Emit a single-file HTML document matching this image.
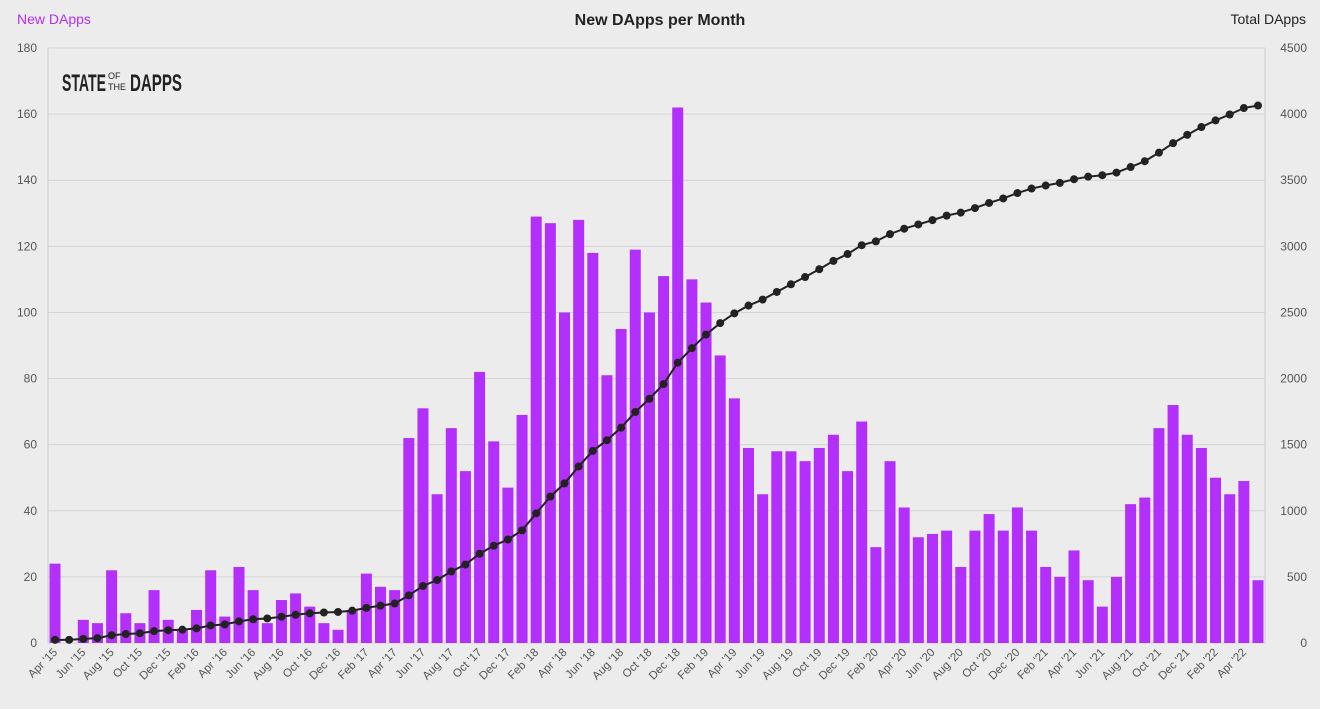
<!DOCTYPE html>
<html><head><meta charset="utf-8"><style>
body{margin:0;background:#ececec;font-family:"Liberation Sans",sans-serif;}
svg text{font-family:"Liberation Sans",sans-serif;}
</style></head><body>
<svg id="c" width="1320" height="704" xmlns="http://www.w3.org/2000/svg"></svg>
<script>
const v=[24,0,7,6,22,9,6,16,7,4,10,22,8,23,16,6,13,15,11,6,4,10,21,17,16,62,71,45,65,52,82,61,47,69,129,127,100,128,118,81,95,119,100,111,162,110,103,87,74,59,45,58,58,55,59,63,52,67,29,55,41,32,33,34,23,34,39,34,41,34,23,20,28,19,11,20,42,44,65,72,63,59,50,45,49,19];
const mn=["Jan","Feb","Mar","Apr","May","Jun","Jul","Aug","Sep","Oct","Nov","Dec"];
const X0=48,X1=1265,Y0=643,Y1=48;
const n=v.length, step=(1258-55)/(n-1);
let s='<rect width="1320" height="704" fill="#ececec"/>';
for(let i=0;i<=9;i++){const y=Y0-(Y0-Y1)*i/9;
 s+=`<line x1="${X0}" x2="${X1}" y1="${y}" y2="${y}" stroke="#d4d4d4"/>`;
 s+=`<text x="37" y="${y+4}" font-size="12" fill="#555" text-anchor="end">${i*20}</text>`;
 s+=`<text x="1307" y="${y+4}" font-size="12" fill="#555" text-anchor="end">${i*500}</text>`;}
s+=`<line x1="${X0}" x2="${X0}" y1="${Y1}" y2="${Y0}" stroke="#ccc"/><line x1="${X1}" x2="${X1}" y1="${Y1}" y2="${Y0}" stroke="#ccc"/>`;
let cum=0,pts=[];const k=(Y0-Y1)/180,kr=(Y0-Y1)/4500;
let tot=v.reduce((a,b)=>a+b,0),scale=4065/tot;
v.forEach((d,i)=>{const x=55+i*step;
 s+=`<rect x="${x-5.5}" y="${Y0-d*k}" width="11" height="${d*k}" fill="#b32ffb"/>`;
 cum+=d;pts.push([x,Y0-cum*scale*kr]);
 if(i%2==0){const m=(3+i)%12,yr=15+Math.floor((3+i)/12);
  s+=`<text transform="translate(${x+3},${Y0+10}) rotate(-45)" font-size="11.5" fill="#555" text-anchor="end">${mn[m]} '${yr}</text>`;}
});
s+=`<polyline points="${pts.map(p=>p.join(',')).join(' ')}" fill="none" stroke="#222" stroke-width="2"/>`;
pts.forEach(p=>s+=`<circle cx="${p[0]}" cy="${p[1]}" r="4" fill="#222"/>`);
s+=`<text x="17" y="24" font-size="14" fill="#b32ffb">New DApps</text>`;
s+=`<text x="660" y="25" font-size="16" font-weight="bold" fill="#222" text-anchor="middle">New DApps per Month</text>`;
s+=`<text x="1306" y="24" font-size="14" fill="#222" text-anchor="end">Total DApps</text>`;
s+=`<text x="62" y="91" font-size="24" font-weight="bold" fill="#222" textLength="44" lengthAdjust="spacingAndGlyphs">STATE</text>`;
s+=`<text x="108" y="79" font-size="9" fill="#222">OF</text><text x="108" y="90" font-size="9" fill="#222">THE</text>`;
s+=`<text x="130" y="91" font-size="24" font-weight="bold" fill="#222" textLength="52" lengthAdjust="spacingAndGlyphs">DAPPS</text>`;
document.getElementById('c').innerHTML=s;
</script></body></html>
